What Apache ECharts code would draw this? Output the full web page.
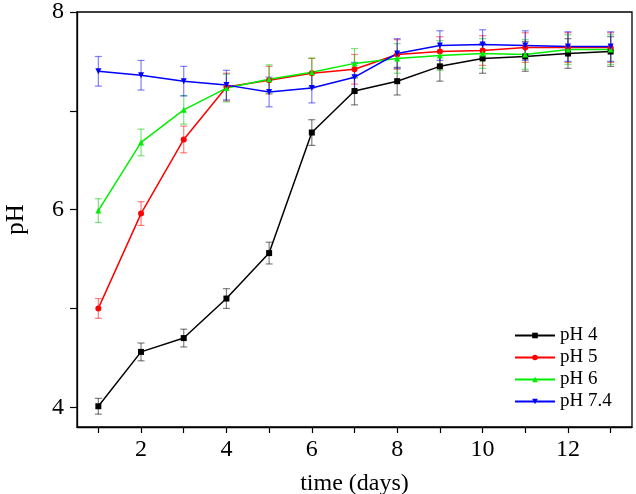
<!DOCTYPE html>
<html>
<head>
<meta charset="utf-8">
<script src="https://cdn.jsdelivr.net/npm/echarts@6/dist/echarts.min.js"></script>
<style>html,body{margin:0;padding:0;background:#fff}#c{width:636px;height:494px}</style>
</head>
<body>
<div id="c"></div>
<script>
var days = [1,2,3,4,5,6,7,8,9,10,11,12,13];
var ph4  = [4.01,4.56,4.70,5.10,5.56,6.78,7.20,7.30,7.45,7.53,7.55,7.58,7.60];
var ph5  = [5.00,5.96,6.71,7.24,7.31,7.38,7.42,7.57,7.60,7.61,7.64,7.64,7.64];
var ph6  = [5.99,6.68,7.01,7.23,7.32,7.39,7.48,7.53,7.56,7.58,7.57,7.62,7.62];
var ph74 = [7.40,7.36,7.30,7.26,7.19,7.23,7.34,7.58,7.66,7.67,7.66,7.65,7.65];
var err4  = [0.08,0.09,0.09,0.10,0.11,0.13,0.14,0.14,0.15,0.15,0.15,0.15,0.15];
var err5  = [0.10,0.12,0.135,0.14,0.14,0.15,0.15,0.15,0.15,0.15,0.15,0.15,0.15];
var err6  = [0.12,0.135,0.145,0.14,0.145,0.145,0.15,0.15,0.15,0.15,0.15,0.15,0.15];
var err74 = [0.15,0.15,0.15,0.15,0.15,0.15,0.15,0.15,0.15,0.15,0.15,0.15,0.15];
var names = ['pH 4','pH 5','pH 6','pH 7.4'];
var xTicks = [1,2,3,4,5,6,7,8,9,10,11,12,13];
var xLabels = [2,4,6,8,10,12];
var yTicks = [4,5,6,7,8];
var yLabels = [4,6,8];

var colors = ['#000000','#ff0000','#00ee00','#0000ff'];
var symbols = ['rect','circle','triangle','path://M0,0 L10,0 L5,9 Z'];
var vals = [ph4, ph5, ph6, ph74];
var errs = [err4, err5, err6, err74];
var errColors = ['rgba(0,0,0,0.5)','rgba(255,0,0,0.5)','rgba(0,200,0,0.5)','rgba(0,0,255,0.5)'];

var series = [];
vals.forEach(function(v, i){
  series.push({
    name: names[i] + ' err',
    type: 'custom',
    z: 1,
    data: days.map(function(d, k){ return [d, v[k] - errs[i][k], v[k] + errs[i][k]]; }),
    renderItem: function(params, api){
      var lo = api.coord([api.value(0), api.value(1)]);
      var hi = api.coord([api.value(0), api.value(2)]);
      var w = 3.5;
      var st = {stroke: errColors[i], lineWidth: 1.2};
      return {type: 'group', children: [
        {type: 'line', shape: {x1: lo[0], y1: lo[1], x2: hi[0], y2: hi[1]}, style: st},
        {type: 'line', shape: {x1: lo[0]-w, y1: lo[1], x2: lo[0]+w, y2: lo[1]}, style: st},
        {type: 'line', shape: {x1: hi[0]-w, y1: hi[1], x2: hi[0]+w, y2: hi[1]}, style: st}
      ]};
    }
  });
});
vals.forEach(function(v, i){
  series.push({
    name: names[i],
    type: 'line',
    z: 3,
    data: days.map(function(d, k){ return [d, v[k]]; }),
    symbol: symbols[i],
    symbolSize: 6,
    showAllSymbol: true,
    lineStyle: {color: colors[i], width: 1.5},
    itemStyle: {color: colors[i]},
    emphasis: {disabled: true}
  });
});

var chart = echarts.init(document.getElementById('c'));
chart.setOption({
  animation: false,
  backgroundColor: '#fff',
  textStyle: {fontFamily: 'Liberation Serif'},
  grid: {left: 77, right: 4, top: 12, bottom: 67, outerBoundsMode: 'none', containLabel: false,
         show: true, borderColor: '#000', borderWidth: 1.3, backgroundColor: 'transparent'},
  legend: {
    data: names, orient: 'vertical', left: 509, top: 321,
    itemWidth: 40, itemHeight: 7, itemGap: 3,
    textStyle: {fontFamily: 'Liberation Serif', fontSize: 19, color: '#000'}
  },
  xAxis: {
    type: 'value', min: 0.5, max: 13.5,
    name: 'time (days)', nameLocation: 'middle', nameGap: 45,
    nameTextStyle: {fontFamily: 'Liberation Serif', fontSize: 24, color: '#000'},
    axisLine: {show: true, lineStyle: {color: '#000', width: 1.3}},
    axisTick: {show: true, inside: false, length: 6, customValues: xTicks, lineStyle: {color: '#000', width: 1.2}},
    axisLabel: {customValues: xLabels, fontFamily: 'Liberation Serif', fontSize: 24, color: '#000', margin: 11},
    splitLine: {show: false}
  },
  yAxis: {
    type: 'value', min: 3.8, max: 8,
    name: 'pH', nameLocation: 'middle', nameGap: 48, nameRotate: 90,
    nameTextStyle: {fontFamily: 'Liberation Serif', fontSize: 25, color: '#000'},
    axisLine: {show: true, lineStyle: {color: '#000', width: 1.3}},
    axisTick: {show: true, inside: false, length: 7, customValues: yTicks, lineStyle: {color: '#000', width: 1.2}},
    axisLabel: {customValues: yLabels, fontFamily: 'Liberation Serif', fontSize: 24, color: '#000', margin: 13},
    splitLine: {show: false}
  },
  series: series
});
</script>
</body>
</html>
